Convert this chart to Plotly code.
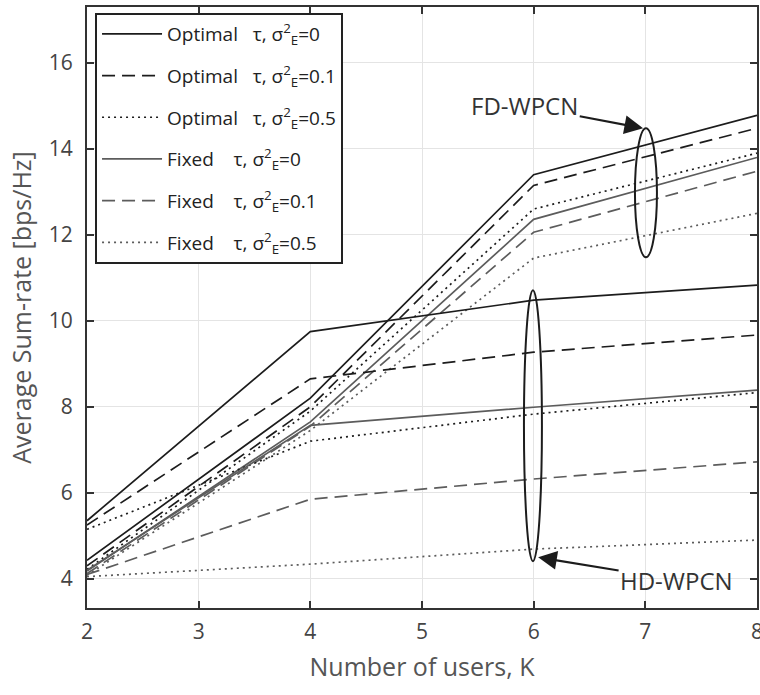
import plotly.graph_objects as go

K = [2, 4, 6, 8]

# FD-WPCN
fd_opt_0 = [4.43, 8.20, 13.40, 14.78]
fd_opt_01 = [4.30, 8.00, 13.15, 14.48]
fd_opt_05 = [4.22, 7.90, 12.60, 13.90]
fd_fix_0 = [4.18, 7.65, 12.36, 13.80]
fd_fix_01 = [4.12, 7.55, 12.06, 13.48]
fd_fix_05 = [4.08, 7.45, 11.46, 12.50]

# HD-WPCN
hd_opt_0 = [5.35, 9.75, 10.48, 10.83]
hd_opt_01 = [5.25, 8.65, 9.27, 9.67]
hd_opt_05 = [5.15, 7.20, 7.83, 8.33]
hd_fix_0 = [4.20, 7.57, 7.99, 8.39]
hd_fix_01 = [4.10, 5.85, 6.32, 6.72]
hd_fix_05 = [4.05, 4.34, 4.69, 4.90]

NB = "\u00a0"
legend_names = [
    "Optimal" + NB * 3 + "τ, σ<sup>2</sup><sub>E</sub>=0",
    "Optimal" + NB * 3 + "τ, σ<sup>2</sup><sub>E</sub>=0.1",
    "Optimal" + NB * 3 + "τ, σ<sup>2</sup><sub>E</sub>=0.5",
    "Fixed" + NB * 4 + "τ, σ<sup>2</sup><sub>E</sub>=0",
    "Fixed" + NB * 4 + "τ, σ<sup>2</sup><sub>E</sub>=0.1",
    "Fixed" + NB * 4 + "τ, σ<sup>2</sup><sub>E</sub>=0.5",
]

BLACK = "#1c1c1c"
GRAY = "#5c5c5c"
DASH = "13px,7px"
DOT = "2px,4px"

styles = [
    (BLACK, "solid"), (BLACK, DASH), (BLACK, DOT),
    (GRAY, "solid"), (GRAY, DASH), (GRAY, DOT),
]

fd_series = [fd_opt_0, fd_opt_01, fd_opt_05, fd_fix_0, fd_fix_01, fd_fix_05]
hd_series = [hd_opt_0, hd_opt_01, hd_opt_05, hd_fix_0, hd_fix_01, hd_fix_05]

fig = go.Figure()
for i, ys in enumerate(fd_series):
    c, d = styles[i]
    fig.add_trace(go.Scatter(x=K, y=ys, mode="lines", name=legend_names[i],
                             legendgroup=str(i), showlegend=True,
                             line=dict(color=c, dash=d, width=1.7)))
for i, ys in enumerate(hd_series):
    c, d = styles[i]
    fig.add_trace(go.Scatter(x=K, y=ys, mode="lines", name=legend_names[i],
                             legendgroup=str(i), showlegend=False,
                             line=dict(color=c, dash=d, width=1.7)))

FONT = "Open Sans"

fig.update_layout(
    width=760, height=695,
    margin=dict(l=87, r=3, t=7, b=87, autoexpand=False),
    paper_bgcolor="white", plot_bgcolor="white",
    font=dict(family=FONT, color="#444", size=20),
    showlegend=True,
    legend=dict(x=0.012, y=0.99, xanchor="left", yanchor="top",
                bgcolor="white", bordercolor="#222", borderwidth=2,
                font=dict(family=FONT, size=19, color="#222"),
                itemwidth=60, tracegroupgap=14),
    shapes=[
        dict(type="circle", xref="x", yref="y", x0=6.907, x1=7.104, y0=11.48, y1=14.48,
             line=dict(color="#1c1c1c", width=2)),
        dict(type="circle", xref="x", yref="y", x0=5.913, x1=6.074, y0=4.41, y1=10.71,
             line=dict(color="#1c1c1c", width=2)),
    ],
    annotations=[
        dict(x=6.98, y=14.48, xref="x", yref="y", ax=5.92, ay=15.0, axref="x", ayref="y",
             text="FD-WPCN", showarrow=True, arrowhead=2, arrowsize=1.7, arrowwidth=2.2,
             arrowcolor="#1c1c1c", font=dict(family=FONT, size=24, color="#333")),
        dict(x=6.04, y=4.5, xref="x", yref="y", ax=7.28, ay=3.97, axref="x", ayref="y",
             text="HD-WPCN", showarrow=True, arrowhead=2, arrowsize=1.7, arrowwidth=2.2,
             arrowcolor="#1c1c1c", font=dict(family=FONT, size=24, color="#333")),
    ],
)

fig.update_xaxes(
    range=[2, 8], tickvals=[2, 3, 4, 5, 6, 7, 8], automargin=False,
    showgrid=True, gridcolor="#e4e4e4", gridwidth=1.2, zeroline=False,
    showline=True, linecolor="#333", linewidth=2, mirror="ticks",
    ticks="inside", ticklen=7, tickwidth=2, tickcolor="#333",
    ticklabeloverflow="allow", ticklabelstandoff=4,
    tickfont=dict(size=21, color="#444"),
    title=dict(text="Number of users, K", font=dict(size=25, color="#555"), standoff=14),
)
fig.update_yaxes(
    range=[3.32, 17.3], tickvals=[4, 6, 8, 10, 12, 14, 16], automargin=False,
    showgrid=True, gridcolor="#e4e4e4", gridwidth=1.2, zeroline=False,
    showline=True, linecolor="#333", linewidth=2, mirror="ticks",
    ticks="inside", ticklen=7, tickwidth=2, tickcolor="#333",
    ticklabelstandoff=8,
    tickfont=dict(size=21, color="#444"),
    title=dict(text="Average Sum-rate [bps/Hz]", font=dict(size=25, color="#555"), standoff=10),
)

fig.write_html("out.html")
